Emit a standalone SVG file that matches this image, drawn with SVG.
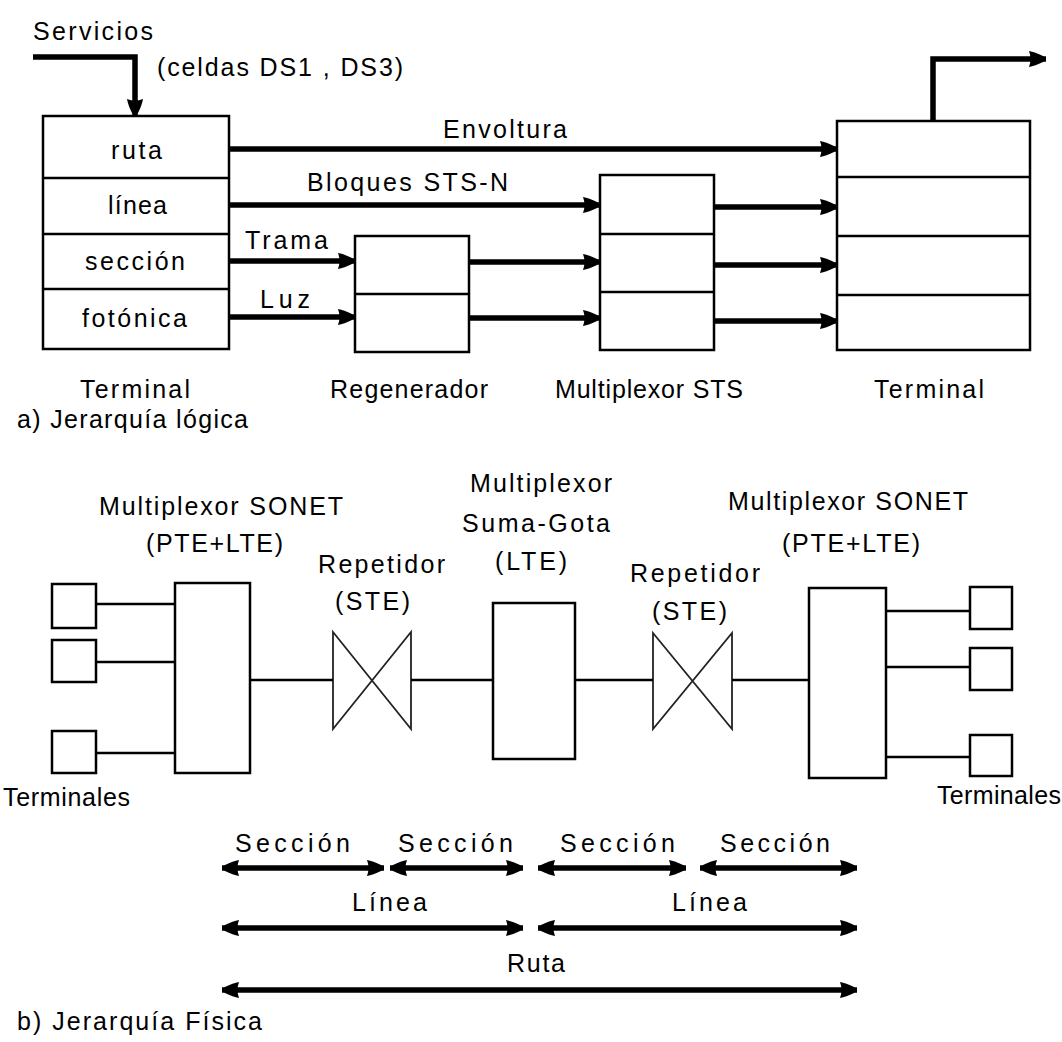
<svg xmlns="http://www.w3.org/2000/svg" width="1062" height="1042" viewBox="0 0 1062 1042">
<defs>
<style>
text{font-family:"Liberation Sans",Arial,sans-serif;font-size:25px;fill:#000;}
.box{fill:#fff;stroke:#000;stroke-width:2.5;}
.div{stroke:#000;stroke-width:2.5;fill:none;}
.thick{stroke:#000;stroke-width:5.5;fill:none;}
.thin{stroke:#000;stroke-width:2.5;fill:none;}
.rep{fill:#fff;stroke:#222;stroke-width:1.8;stroke-linejoin:miter;}
</style>
<marker id="ah" markerUnits="userSpaceOnUse" markerWidth="20" markerHeight="20" viewBox="0 0 20 20" refX="19" refY="10" orient="auto-start-reverse">
<path d="M2,2 Q8,3 16,7 Q20,10 16,13 Q8,17 2,18 Q5,10 2,2 Z" fill="#000"/>
</marker>
</defs>
<rect width="1062" height="1042" fill="#fff"/>

<g id="labels-a">
<text x="33" y="40" textLength="120" lengthAdjust="spacing">Servicios</text>
<text x="157" y="76" textLength="246" lengthAdjust="spacing">(celdas DS1 , DS3)</text>
<text x="443" y="138" textLength="124" lengthAdjust="spacing">Envoltura</text>
<text x="307" y="191" textLength="201" lengthAdjust="spacing">Bloques STS-N</text>
<text x="245" y="249" textLength="83" lengthAdjust="spacing">Trama</text>
<text x="260" y="308" textLength="50" lengthAdjust="spacing">Luz</text>
</g>

<g id="terminal-a-left">
<rect class="box" x="43" y="116" width="186" height="233"/>
<line class="div" x1="43" y1="178" x2="229" y2="178"/>
<line class="div" x1="43" y1="234" x2="229" y2="234"/>
<line class="div" x1="43" y1="289" x2="229" y2="289"/>
<text x="111" y="159" textLength="51" lengthAdjust="spacing">ruta</text>
<text x="108" y="214" textLength="59" lengthAdjust="spacing">línea</text>
<text x="85" y="270" textLength="100" lengthAdjust="spacing">sección</text>
<text x="82" y="327" textLength="105" lengthAdjust="spacing">fotónica</text>
<text x="80" y="398" textLength="110" lengthAdjust="spacing">Terminal</text>
</g>

<g id="regenerador">
<rect class="box" x="355" y="236" width="114" height="116"/>
<line class="div" x1="355" y1="294" x2="469" y2="294"/>
<text x="330" y="398" textLength="158" lengthAdjust="spacing">Regenerador</text>
</g>

<g id="multiplexor-sts">
<rect class="box" x="600" y="175" width="114" height="175"/>
<line class="div" x1="600" y1="234" x2="714" y2="234"/>
<line class="div" x1="600" y1="292" x2="714" y2="292"/>
<text x="555" y="398" textLength="188" lengthAdjust="spacing">Multiplexor STS</text>
</g>

<g id="terminal-a-right">
<rect class="box" x="837" y="121" width="193" height="229"/>
<line class="div" x1="837" y1="177" x2="1030" y2="177"/>
<line class="div" x1="837" y1="236" x2="1030" y2="236"/>
<line class="div" x1="837" y1="295" x2="1030" y2="295"/>
<text x="874" y="398" textLength="110" lengthAdjust="spacing">Terminal</text>
</g>

<text x="17" y="428" textLength="231" lengthAdjust="spacing">a) Jerarquía lógica</text>

<g id="connectors-a">
<polyline class="thick" points="33,57 135,57 135,116" marker-end="url(#ah)"/>
<line class="thick" x1="229" y1="149" x2="837" y2="149" marker-end="url(#ah)"/>
<line class="thick" x1="229" y1="205" x2="600" y2="205" marker-end="url(#ah)"/>
<line class="thick" x1="229" y1="261" x2="355" y2="261" marker-end="url(#ah)"/>
<line class="thick" x1="229" y1="317" x2="355" y2="317" marker-end="url(#ah)"/>
<line class="thick" x1="469" y1="262" x2="600" y2="262" marker-end="url(#ah)"/>
<line class="thick" x1="469" y1="318" x2="600" y2="318" marker-end="url(#ah)"/>
<line class="thick" x1="714" y1="207" x2="837" y2="207" marker-end="url(#ah)"/>
<line class="thick" x1="714" y1="265" x2="837" y2="265" marker-end="url(#ah)"/>
<line class="thick" x1="714" y1="321" x2="837" y2="321" marker-end="url(#ah)"/>
<polyline class="thick" points="933,121 933,59 1046,59" marker-end="url(#ah)"/>
</g>

<g id="terminales-left">
<rect class="box" x="52" y="584" width="44" height="44"/>
<rect class="box" x="52" y="640" width="44" height="42"/>
<rect class="box" x="52" y="731" width="44" height="42"/>
<text x="3" y="806" textLength="127" lengthAdjust="spacing">Terminales</text>
</g>

<g id="mux-sonet-left">
<rect class="box" x="175" y="583" width="75" height="190"/>
<text x="99" y="515" textLength="244" lengthAdjust="spacing">Multiplexor SONET</text>
<text x="146" y="552" textLength="137" lengthAdjust="spacing">(PTE+LTE)</text>
</g>

<g id="repetidor-1">
<path class="rep" d="M333,632 L411,729 L411,632 L333,729 Z"/>
<text x="318" y="573" textLength="127" lengthAdjust="spacing">Repetidor</text>
<text x="335" y="610" textLength="75" lengthAdjust="spacing">(STE)</text>
</g>

<g id="mux-suma-gota">
<rect class="box" x="493" y="603" width="82" height="156"/>
<text x="470" y="492" textLength="142" lengthAdjust="spacing">Multiplexor</text>
<text x="462" y="532" textLength="148" lengthAdjust="spacing">Suma-Gota</text>
<text x="495" y="570" textLength="72" lengthAdjust="spacing">(LTE)</text>
</g>

<g id="repetidor-2">
<path class="rep" d="M653,633 L732,729 L732,633 L653,729 Z"/>
<text x="630" y="582" textLength="130" lengthAdjust="spacing">Repetidor</text>
<text x="652" y="620" textLength="75" lengthAdjust="spacing">(STE)</text>
</g>

<g id="mux-sonet-right">
<rect class="box" x="809" y="588" width="77" height="190"/>
<text x="728" y="510" textLength="240" lengthAdjust="spacing">Multiplexor SONET</text>
<text x="782" y="552" textLength="138" lengthAdjust="spacing">(PTE+LTE)</text>
</g>

<g id="terminales-right">
<rect class="box" x="970" y="587" width="42" height="42"/>
<rect class="box" x="970" y="648" width="42" height="42"/>
<rect class="box" x="970" y="735" width="42" height="41"/>
<text x="937" y="804" textLength="124" lengthAdjust="spacing">Terminales</text>
</g>

<g id="connectors-b">
<line class="thin" x1="96" y1="604" x2="175" y2="604"/>
<line class="thin" x1="96" y1="662" x2="175" y2="662"/>
<line class="thin" x1="96" y1="753" x2="175" y2="753"/>
<line class="thin" x1="250" y1="680" x2="333" y2="680"/>
<line class="thin" x1="411" y1="680" x2="493" y2="680"/>
<line class="thin" x1="575" y1="680" x2="653" y2="680"/>
<line class="thin" x1="732" y1="680" x2="809" y2="680"/>
<line class="thin" x1="886" y1="611" x2="970" y2="611"/>
<line class="thin" x1="886" y1="667" x2="970" y2="667"/>
<line class="thin" x1="886" y1="757" x2="970" y2="757"/>
</g>

<g id="spans">
<line class="thick" x1="222" y1="868" x2="384" y2="868" marker-start="url(#ah)" marker-end="url(#ah)"/>
<line class="thick" x1="390" y1="868" x2="523" y2="868" marker-start="url(#ah)" marker-end="url(#ah)"/>
<line class="thick" x1="538" y1="868" x2="686" y2="868" marker-start="url(#ah)" marker-end="url(#ah)"/>
<line class="thick" x1="700" y1="868" x2="857" y2="868" marker-start="url(#ah)" marker-end="url(#ah)"/>
<line class="thick" x1="222" y1="928" x2="523" y2="928" marker-start="url(#ah)" marker-end="url(#ah)"/>
<line class="thick" x1="538" y1="928" x2="857" y2="928" marker-start="url(#ah)" marker-end="url(#ah)"/>
<line class="thick" x1="222" y1="990" x2="857" y2="990" marker-start="url(#ah)" marker-end="url(#ah)"/>
<text x="235" y="852" textLength="115" lengthAdjust="spacing">Sección</text>
<text x="398" y="852" textLength="115" lengthAdjust="spacing">Sección</text>
<text x="560" y="852" textLength="115" lengthAdjust="spacing">Sección</text>
<text x="720" y="852" textLength="110" lengthAdjust="spacing">Sección</text>
<text x="352" y="911" textLength="75" lengthAdjust="spacing">Línea</text>
<text x="672" y="911" textLength="75" lengthAdjust="spacing">Línea</text>
<text x="507" y="972" textLength="58" lengthAdjust="spacing">Ruta</text>
</g>

<text x="17" y="1030" textLength="245" lengthAdjust="spacing">b) Jerarquía Física</text>
</svg>
